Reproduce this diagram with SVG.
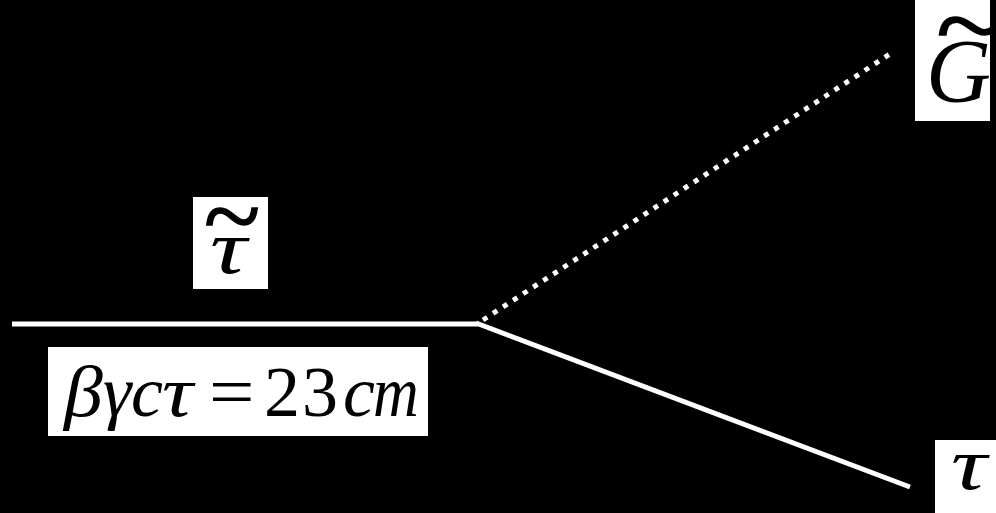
<svg xmlns="http://www.w3.org/2000/svg" width="996" height="513" viewBox="0 0 996 513">
<style>
.bg{fill:#000}
.box{fill:#fff}
.m{font-family:"Liberation Serif","Times New Roman",serif;fill:#000}
.i{font-style:italic}
.t{stroke:#000;stroke-width:1.2}
.ln{stroke:#fff;stroke-width:5;fill:none}
.dot{stroke:#fff;stroke-width:5;fill:none;stroke-dasharray:5 7}
</style>
<rect class="bg" x="0" y="0" width="996" height="513"/>
<g id="connectors">
<line class="ln" x1="12" y1="324" x2="478" y2="324"/>
<line class="dot" x1="483" y1="320" x2="893" y2="52"/>
<line class="ln" x1="476" y1="323" x2="910" y2="487"/>
</g>
<g id="node-gluino">
<rect class="box" x="915" y="0" width="75" height="121"/>
<text class="m i" x="926" y="102" font-size="90">G</text>
<text class="m t" transform="translate(936,61) scale(1.45,1.2)" font-size="88">~</text>
</g>
<g id="node-stau">
<rect class="box" x="193" y="197" width="75" height="92"/>
<text class="m i" transform="translate(210,273) scale(1.35,1)" font-size="76">τ</text>
<text class="m t" transform="translate(204,249) scale(1.3,1.25)" font-size="80">~</text>
</g>
<g id="node-decay">
<rect class="box" x="48" y="347" width="380" height="89"/>
<g class="m" font-size="72">
<text class="i" transform="translate(64,416) scale(1.08,1)">β</text>
<text class="i" x="103" y="416">γ</text>
<text class="i" x="131" y="416">c</text>
<text class="i" transform="translate(162,416) scale(1.2,1)">τ</text>
<text transform="translate(209,416) scale(1.12,1)">=</text>
<text x="264" y="416">2</text>
<text x="302" y="416">3</text>
<text class="i" x="343" y="416">c</text>
<text class="i" transform="translate(373,416) scale(0.88,1)">m</text>
</g>
</g>
<g id="node-tau">
<rect class="box" x="935" y="440" width="61" height="73"/>
<text class="m i" transform="translate(951,489) scale(1.35,1)" font-size="74">τ</text>
</g>
</svg>
